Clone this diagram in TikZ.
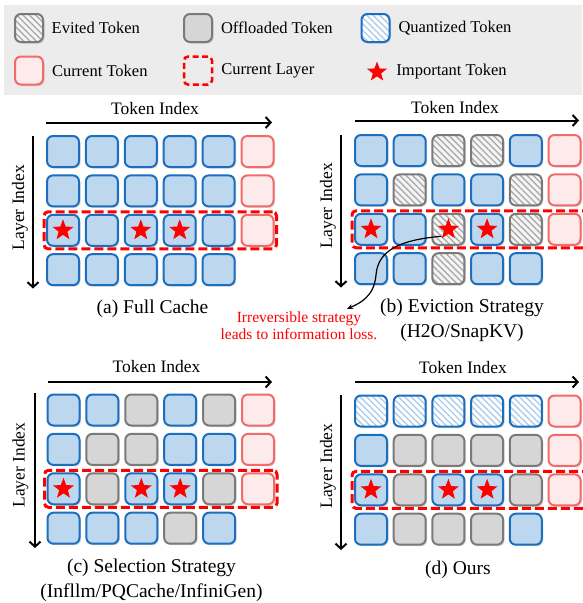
\documentclass[tikz,border=0pt]{standalone}
\usepackage{fontspec}
\setmainfont{Liberation Serif}
\usetikzlibrary{positioning,fit,shapes.geometric,shadows,patterns.meta,arrows.meta}

\definecolor{tokdraw}{HTML}{1C6FBE}
\definecolor{tokfill}{HTML}{BDD7EE}
\definecolor{offdraw}{HTML}{7A7A7A}
\definecolor{offfill}{HTML}{D6D6D6}
\definecolor{curdraw}{HTML}{F26B6B}
\definecolor{curfill}{HTML}{FDEAEA}
\definecolor{legbg}{HTML}{ECECEC}
\definecolor{quantline}{HTML}{AFCDEB}

\begin{document}
\begin{tikzpicture}[x=1pt,y=1pt,>={Straight Barb[length=5pt,width=11pt]},line width=2pt]
  \tikzstyle{cell}=[rectangle, rounded corners=6pt, minimum width=32pt, minimum height=31pt, inner sep=0pt,
    line width=2pt, drop shadow={shadow xshift=1.5pt, shadow yshift=-1.5pt, opacity=0.3}]
  \tikzstyle{tokcell}=[cell, draw=tokdraw, fill=tokfill]
  \tikzstyle{offcell}=[cell, draw=offdraw, fill=offfill]
  \tikzstyle{evcell}=[cell, draw=offdraw, preaction={fill=gray!8},
    pattern={Lines[angle=-45,distance=4.5pt,line width=1.4pt]}, pattern color=gray!65]
  \tikzstyle{qcell}=[cell, draw=tokdraw, preaction={fill=white},
    pattern={Lines[angle=-45,distance=4.5pt,line width=1.4pt]}, pattern color=quantline]
  \tikzstyle{curcell}=[cell, draw=curdraw, fill=curfill]
  \tikzstyle{imp}=[star, star points=5, star point ratio=2.4, fill=red, minimum size=22pt, inner sep=0pt]
  \tikzstyle{layerbox}=[draw=red, dash pattern=on 9pt off 4pt, line width=3pt, rounded corners=4pt, inner sep=2pt]
  \tikzstyle{axis}=[->, line width=2pt]
  \tikzstyle{axlabel}=[font=\fontsize{17.5}{20}\selectfont, inner sep=0pt]
  \tikzstyle{capt}=[font=\fontsize{19.5}{25}\selectfont, align=center, inner sep=0pt]
  \tikzstyle{legtext}=[font=\fontsize{16.5}{19}\selectfont, inner sep=0pt]

  \useasboundingbox (0,0) rectangle (582,-603);

  % legend
  \fill[legbg] (4,-5) rectangle (582,-95);
  \node[evcell, minimum width=28pt, minimum height=28pt] (lev) at (29,-28) {};
  \node[legtext, right=7pt of lev] (levt) {Evited Token};
  \node[offcell, minimum width=28pt, minimum height=28pt] (loff) at (198,-28) {};
  \node[legtext, right=7pt of loff] (lofft) {Offloaded Token};
  \node[qcell, minimum width=28pt, minimum height=28pt] (lq) at (375.5,-28) {};
  \node[legtext, right=7pt of lq] (lqt) {Quantized Token};
  \node[curcell, minimum width=28pt, minimum height=28pt] (lcur) at (29,-70.5) {};
  \node[legtext, right=7pt of lcur] (lcurt) {Current Token};
  \node[layerbox, line width=2.5pt, minimum width=28pt, minimum height=28pt, dash pattern=on 6pt off 3.5pt] (llay) at (198,-70.5) {};
  \node[legtext, right=7pt of llay] (llayt) {Current Layer};
  \node[imp, minimum size=21pt] (limp) at (377,-72) {};
  \node[legtext, right=11pt of limp] (limpt) {Important Token};

  % (a) full cache
  \begin{scope}[shift={(63,-151.5)}]
    \foreach \k [count=\i from 0] in {tokcell,tokcell,tokcell,tokcell,tokcell,curcell}
      \node[\k] (a0\i) at (\i*38.9,0) {};
    \foreach \k [count=\i from 0] in {tokcell,tokcell,tokcell,tokcell,tokcell,curcell}
      \node[\k] (a1\i) at (\i*38.9,-39.4) {};
    \foreach \k [count=\i from 0] in {tokcell,tokcell,tokcell,tokcell,tokcell,curcell}
      \node[\k] (a2\i) at (\i*38.9,-78.8) {};
    \foreach \k [count=\i from 0] in {tokcell,tokcell,tokcell,tokcell,tokcell}
      \node[\k] (a3\i) at (\i*38.9,-118.2) {};
    \foreach \i in {0,2,3}
      \node[imp] (as\i) at (a2\i) {};
    \node[layerbox, fit=(a20)(a25)] (abox) {};

    \coordinate (atl) at (-17,29);
    \coordinate (atr) at (209,29);
    \draw[axis] (atl) -- (atr);
    \node[axlabel] (atok) at (92,43) {Token Index};
    \coordinate (alt) at (-30,16);
    \coordinate (alb) at (-30,-137);
    \draw[axis] (alt) -- (alb);
    \node[axlabel, rotate=90] (alay) at (-43,-56) {Layer Index};
    \node[capt] (acap) at (89.5,-157) {(a) Full Cache};
  \end{scope}

  % (b) eviction
  \begin{scope}[shift={(371,-150.5)}]
    \foreach \k [count=\i from 0] in {tokcell,tokcell,evcell,evcell,tokcell,curcell}
      \node[\k] (b0\i) at (\i*38.7,0) {};
    \foreach \k [count=\i from 0] in {tokcell,evcell,tokcell,tokcell,evcell,curcell}
      \node[\k] (b1\i) at (\i*38.7,-39.4) {};
    \foreach \k [count=\i from 0] in {tokcell,tokcell,evcell,tokcell,evcell,curcell}
      \node[\k] (b2\i) at (\i*38.7,-78.8) {};
    \foreach \k [count=\i from 0] in {tokcell,tokcell,evcell,tokcell,tokcell}
      \node[\k] (b3\i) at (\i*38.7,-118.2) {};
    \foreach \i in {0,2,3}
      \node[imp] (bs\i) at (b2\i) {};
    \coordinate (bedge) at (222,-78.8);
    \node[layerbox, fit=(b20)(bedge)] (bbox) {};

    \coordinate (btl) at (-16,30);
    \coordinate (btr) at (208,30);
    \draw[axis] (btl) -- (btr);
    \node[axlabel] (btok) at (84,43) {Token Index};
    \coordinate (blt) at (-30,16);
    \coordinate (blb) at (-30,-137);
    \draw[axis] (blt) -- (blb);
    \node[axlabel, rotate=90] (blay) at (-43,-55) {Layer Index};
    \node[capt] (bcap) at (91,-170) {(b) Eviction Strategy\\(H2O/SnapKV)};
  \end{scope}

  % note on eviction
  \node[font=\fontsize{15.5}{17}\selectfont, text=red, align=center, inner sep=0pt] (note) at (299,-326)
    {Irreversible strategy\\leads to information loss.};
  \coordinate (bnote) at (347,-309);
  \draw[line width=1.2pt, -{Stealth[length=6pt,width=5pt]}] (bs2.south west)
    .. controls (400,-240) and (378,-250) .. (376,-275)
    .. controls (374,-297) and (360,-303) .. (bnote);

  % (c) selection
  \begin{scope}[shift={(63.5,-410)}]
    \foreach \k [count=\i from 0] in {tokcell,tokcell,offcell,tokcell,offcell,curcell}
      \node[\k] (c0\i) at (\i*38.9,0) {};
    \foreach \k [count=\i from 0] in {tokcell,offcell,offcell,tokcell,tokcell,curcell}
      \node[\k] (c1\i) at (\i*38.9,-39.4) {};
    \foreach \k [count=\i from 0] in {tokcell,offcell,tokcell,tokcell,offcell,curcell}
      \node[\k] (c2\i) at (\i*38.9,-78.8) {};
    \foreach \k [count=\i from 0] in {tokcell,tokcell,tokcell,offcell,tokcell}
      \node[\k] (c3\i) at (\i*38.9,-118.2) {};
    \foreach \i in {0,2,3}
      \node[imp] (cs\i) at (c2\i) {};
    \node[layerbox, fit=(c20)(c25)] (cbox) {};

    \coordinate (ctl) at (-15.5,28);
    \coordinate (ctr) at (208.5,28);
    \draw[axis] (ctl) -- (ctr);
    \node[axlabel] (ctok) at (93,43) {Token Index};
    \coordinate (clt) at (-28.5,17);
    \coordinate (clb) at (-28.5,-138);
    \draw[axis] (clt) -- (clb);
    \node[axlabel, rotate=90] (clay) at (-43,-55) {Layer Index};
    \node[capt] (ccap) at (88,-170) {(c) Selection Strategy\\(Infllm/PQCache/InfiniGen)};
  \end{scope}

  % (d) ours
  \begin{scope}[shift={(371,-411)}]
    \foreach \k [count=\i from 0] in {qcell,qcell,qcell,qcell,qcell,curcell}
      \node[\k] (d0\i) at (\i*38.7,0) {};
    \foreach \k [count=\i from 0] in {tokcell,offcell,offcell,offcell,offcell,curcell}
      \node[\k] (d1\i) at (\i*38.7,-39.4) {};
    \foreach \k [count=\i from 0] in {tokcell,offcell,tokcell,tokcell,offcell,curcell}
      \node[\k] (d2\i) at (\i*38.7,-78.8) {};
    \foreach \k [count=\i from 0] in {tokcell,offcell,offcell,offcell,tokcell}
      \node[\k] (d3\i) at (\i*38.7,-118.2) {};
    \foreach \i in {0,2,3}
      \node[imp] (ds\i) at (d2\i) {};
    \coordinate (dedge) at (222,-78.8);
    \node[layerbox, fit=(d20)(dedge)] (dbox) {};

    \coordinate (dtl) at (-16,29);
    \coordinate (dtr) at (208,29);
    \draw[axis] (dtl) -- (dtr);
    \node[axlabel] (dtok) at (92,43) {Token Index};
    \coordinate (dlt) at (-30,16);
    \coordinate (dlb) at (-30,-139);
    \draw[axis] (dlt) -- (dlb);
    \node[axlabel, rotate=90] (dlay) at (-43,-55) {Layer Index};
    \node[capt] (dcap) at (87,-159) {(d) Ours};
  \end{scope}
\end{tikzpicture}
\end{document}
